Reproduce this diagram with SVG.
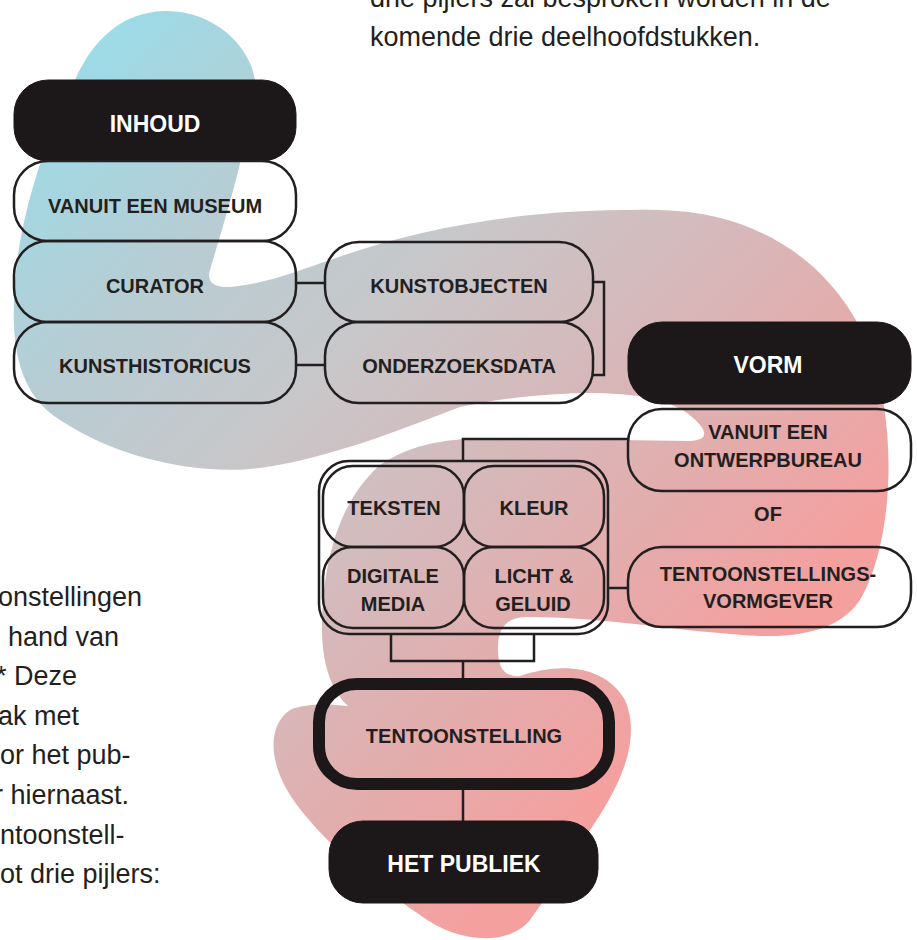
<svg xmlns="http://www.w3.org/2000/svg" width="917" height="940" viewBox="0 0 917 940">
<defs>
<linearGradient id="blobGrad" gradientUnits="userSpaceOnUse" x1="0" y1="0" x2="700" y2="700">
<stop offset="0.1" stop-color="#9cdbe7"/>
<stop offset="0.3" stop-color="#b6cdd4"/>
<stop offset="0.5" stop-color="#c8c7c9"/>
<stop offset="0.7" stop-color="#d7b7b9"/>
<stop offset="0.85" stop-color="#e5abab"/>
<stop offset="1" stop-color="#f4a09f"/>
</linearGradient>
<style>
.box{fill:none;stroke:#231f20;stroke-width:2.5}
.dark{fill:#1c1819;stroke:#1c1819;stroke-width:1}
.thick{fill:none;stroke:#1c1819;stroke-width:12}
.conn{fill:none;stroke:#231f20;stroke-width:2.5}
.t{font-family:"Liberation Sans",Arial,sans-serif;font-weight:700;font-size:20px;fill:#231f20;text-anchor:middle}
.tw{font-family:"Liberation Sans",Arial,sans-serif;font-weight:700;font-size:23px;fill:#ffffff;text-anchor:middle}
.body{font-family:"Liberation Sans",Arial,sans-serif;font-weight:400;font-size:27px;fill:#231f20}
</style>
</defs>

<path id="blob" fill="url(#blobGrad)" d="M 163 11 C 212 9 250 45 255 80 C 250 140 225 220 210 270 Q 205 288 230 287 C 270 283 300 270 330 260 C 420 228 520 208 660 210 C 760 212 835 265 868 345 C 898 420 895 540 860 600 C 840 630 800 637 760 636 C 680 632 600 616 525 617 Q 497 618 498 650 Q 498 678 520 676 C 560 662 605 665 625 700 C 640 735 625 775 600 815 C 570 860 545 900 530 920 C 510 945 460 945 420 915 C 370 880 320 840 290 795 C 268 760 268 725 290 710 C 305 703 330 704 348 706 C 330 690 322 660 322 630 C 322 560 340 500 380 465 C 410 445 440 440 480 438 L 690 441 Q 712 440 700 425 C 680 400 640 392 580 393 C 530 395 490 400 460 407 C 400 430 330 458 260 468 C 200 475 120 460 60 420 C 20 395 12 350 14 300 C 16 230 40 150 75 80 C 95 35 125 13 163 11 Z"/>

<g id="body-text">
<text class="body" x="370" y="7" font-size="26.7">drie pijlers zal besproken worden in de</text>
<text class="body" x="370" y="46" font-size="26.7">komende drie deelhoofdstukken.</text>
<text class="body" x="-2" y="606">onstellingen</text>
<text class="body" x="8" y="646">hand van</text>
<text class="body" x="-4" y="685">* Deze</text>
<text class="body" x="-2" y="725">ak met</text>
<text class="body" x="0" y="764">or het pub-</text>
<text class="body" x="-6" y="804">r hiernaast.</text>
<text class="body" x="0" y="844">ntoonstell-</text>
<text class="body" x="0" y="883">ot drie pijlers:</text>
</g>

<g id="connectors">
<path class="conn" d="M 296 283 H 325"/>
<path class="conn" d="M 296 365 H 325"/>
<path class="conn" d="M 593 282 H 604 V 375 H 593"/>
<path class="conn" d="M 628 439 H 463 V 461"/>
<path class="conn" d="M 608 588 H 628"/>
<path class="conn" d="M 391 634 V 661 H 534 V 634"/>
<path class="conn" d="M 463 661 V 679"/>
<path class="conn" d="M 463 790 V 821"/>
</g>

<g id="inhoud">
<rect class="dark" x="14" y="80" width="282" height="81" rx="34"/>
<text class="tw" x="155" y="132">INHOUD</text>
</g>
<g id="vanuit-museum">
<rect class="box" x="14" y="161" width="282" height="80" rx="34"/>
<text class="t" x="155" y="213">VANUIT EEN MUSEUM</text>
</g>
<g id="curator">
<rect class="box" x="14" y="241" width="282" height="81" rx="34"/>
<text class="t" x="155" y="293">CURATOR</text>
</g>
<g id="kunsthistoricus">
<rect class="box" x="14" y="322" width="282" height="81" rx="34"/>
<text class="t" x="155" y="373">KUNSTHISTORICUS</text>
</g>
<g id="kunstobjecten">
<rect class="box" x="325" y="242" width="268" height="80" rx="34"/>
<text class="t" x="459" y="293">KUNSTOBJECTEN</text>
</g>
<g id="onderzoeksdata">
<rect class="box" x="325" y="322" width="268" height="81" rx="34"/>
<text class="t" x="459" y="373">ONDERZOEKSDATA</text>
</g>
<g id="vorm">
<rect class="dark" x="628" y="322" width="283" height="82" rx="34"/>
<text class="tw" x="768" y="373">VORM</text>
</g>
<g id="ontwerpbureau">
<rect class="box" x="628" y="409" width="283" height="82" rx="34"/>
<text class="t" x="768" y="439">VANUIT EEN</text>
<text class="t" x="768" y="467">ONTWERPBUREAU</text>
</g>
<g id="of">
<text class="t" x="768" y="521">OF</text>
</g>
<g id="vormgever">
<rect class="box" x="628" y="547" width="283" height="80" rx="34"/>
<text class="t" x="768" y="581">TENTOONSTELLINGS-</text>
<text class="t" x="768" y="608">VORMGEVER</text>
</g>
<g id="middelen">
<rect class="box" x="319" y="461" width="289" height="173" rx="30"/>
</g>
<g id="teksten">
<rect class="box" x="323" y="466" width="141" height="81" rx="30"/>
<text class="t" x="394" y="515">TEKSTEN</text>
</g>
<g id="kleur">
<rect class="box" x="464" y="466" width="140" height="81" rx="30"/>
<text class="t" x="534" y="515">KLEUR</text>
</g>
<g id="digitale-media">
<rect class="box" x="323" y="547" width="141" height="81" rx="30"/>
<text class="t" x="393" y="583">DIGITALE</text>
<text class="t" x="393" y="611">MEDIA</text>
</g>
<g id="licht-geluid">
<rect class="box" x="464" y="547" width="140" height="81" rx="30"/>
<text class="t" x="534" y="583">LICHT &amp;</text>
<text class="t" x="533" y="611">GELUID</text>
</g>
<g id="tentoonstelling">
<rect class="thick" x="319" y="684" width="290" height="100" rx="38"/>
<text class="t" x="464" y="743">TENTOONSTELLING</text>
</g>
<g id="publiek">
<rect class="dark" x="329" y="821" width="269" height="82" rx="34"/>
<text class="tw" x="464" y="872" font-size="21.5">HET PUBLIEK</text>
</g>
</svg>
